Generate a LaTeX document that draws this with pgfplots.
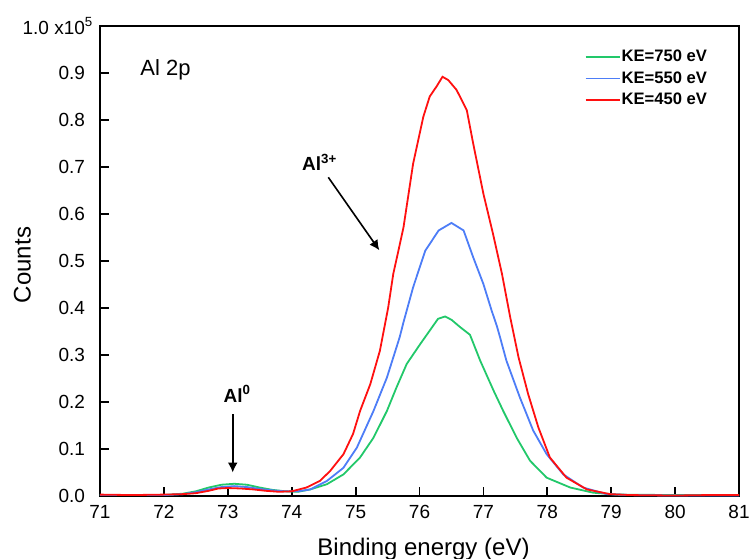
\documentclass[border=0pt]{standalone}
\usepackage{pgfplots}
\pgfplotsset{compat=1.18}
\usepackage{fontspec}
\setmainfont{Liberation Sans}
\usetikzlibrary{arrows.meta}
\definecolor{cgreen}{HTML}{22C86A}
\definecolor{cblue}{HTML}{4D7DF7}
\definecolor{cred}{HTML}{FF1010}
\begin{document}
\begin{tikzpicture}
\useasboundingbox (-50pt,-31pt) rectangle (324.5pt,248pt);
\begin{axis}[
  at={(0,0)}, anchor=south west,
  scale only axis, width=319.5pt, height=235pt,
  xmin=71, xmax=81, ymin=0, ymax=1.0,
  xtick={71,72,...,81},
  ytick={0,0.1,0.2,0.3,0.4,0.5,0.6,0.7,0.8,0.9,1.0},
  yticklabels={0.0,0.1,0.2,0.3,0.4,0.5,0.6,0.7,0.8,0.9,{1.0 x10\rlap{\textsuperscript{5}}}},
  /pgf/number format/assume math mode=true,
  tick pos=left, tick align=inside,
  major tick length=4.5pt,
  axis line style={line width=1pt},
  every tick/.style={black, line width=0.9pt},
  tick label style={font=\fontsize{9.5}{11}\selectfont},
  yticklabel style={xshift=-4pt},
  xticklabel style={yshift=-1pt},
  xlabel={Binding energy (eV)},
  ylabel={Counts},
  label style={font=\fontsize{12}{14}\selectfont},
  xlabel style={at={(axis description cs:0.5,0)}, anchor=base, yshift=-29.5pt, xshift=2pt},
  ylabel style={at={(axis description cs:-0.1213,0.4915)}, anchor=center},
  legend style={draw=none, fill=none, at={(axis description cs:0.952,0.953)}, anchor=north east,
    inner sep=0pt, row sep=2.3pt,
    font=\fontsize{8.3}{9}\selectfont\bfseries,
    nodes={inner sep=0.5pt, text height=6pt, text depth=1.5pt}},
  legend cell align=left,
  legend image code/.code={\draw[#1] (-3pt,0pt) -- (14pt,0pt);},
  every axis plot/.append style={line width=0.9pt},
]
\addplot[cgreen] coordinates {
(71.0,0.002) (71.5,0.002) (72.0,0.002) (72.3,0.005) (72.5,0.010) (72.7,0.018) (72.9,0.024)
(73.1,0.026) (73.3,0.024) (73.5,0.018) (73.7,0.013) (73.9,0.010) (74.1,0.009) (74.29,0.014)
(74.55,0.025) (74.81,0.046) (75.07,0.082) (75.28,0.124) (75.49,0.181) (75.64,0.231) (75.80,0.281)
(76.01,0.323) (76.15,0.350) (76.29,0.377) (76.40,0.382) (76.50,0.375) (76.63,0.360) (76.79,0.343)
(76.95,0.288) (77.16,0.224) (77.31,0.181) (77.52,0.124) (77.73,0.075) (77.99,0.039) (78.36,0.018)
(78.72,0.007) (79.1,0.003) (80.0,0.002) (81.0,0.002)
};
\addlegendentry{KE=750 eV}
\addplot[cblue] coordinates {
(71.0,0.002) (71.5,0.002) (72.0,0.002) (72.3,0.004) (72.5,0.008) (72.7,0.014) (72.9,0.019)
(73.1,0.021) (73.3,0.019) (73.5,0.015) (73.7,0.012) (73.9,0.010) (74.1,0.010) (74.29,0.014)
(74.55,0.032) (74.81,0.060) (75.02,0.103) (75.28,0.181) (75.49,0.252) (75.69,0.338) (75.75,0.370)
(75.90,0.444) (76.09,0.522) (76.30,0.565) (76.50,0.581) (76.69,0.565) (76.84,0.508) (77.0,0.451)
(77.13,0.394) (77.21,0.362) (77.26,0.338) (77.36,0.288) (77.57,0.210) (77.78,0.139) (77.99,0.089)
(78.25,0.046) (78.56,0.018) (78.93,0.004) (79.3,0.002) (80.0,0.001) (81.0,0.001)
};
\addlegendentry{KE=550 eV}
\addplot[cred] coordinates {
(71.0,0.003) (71.5,0.002) (72.0,0.003) (72.3,0.004) (72.5,0.006) (72.7,0.011) (72.85,0.016)
(73.0,0.017) (73.2,0.016) (73.4,0.014) (73.6,0.011) (73.8,0.009) (74.0,0.010) (74.23,0.018)
(74.44,0.032) (74.60,0.053) (74.81,0.089) (74.96,0.132) (75.07,0.181) (75.23,0.238) (75.38,0.309)
(75.51,0.401) (75.59,0.473) (75.67,0.522) (75.75,0.572) (75.90,0.707) (76.06,0.807) (76.16,0.850)
(76.27,0.872) (76.36,0.892) (76.45,0.885) (76.58,0.864) (76.74,0.821) (76.84,0.750) (77.0,0.643)
(77.15,0.558) (77.29,0.473) (77.42,0.380) (77.55,0.295) (77.70,0.217) (77.86,0.146) (78.04,0.082)
(78.30,0.039) (78.62,0.014) (78.98,0.004) (79.3,0.002) (80.0,0.001) (80.5,0.002) (81.0,0.002)
};
\addlegendentry{KE=450 eV}
\node[anchor=base west, inner sep=0pt, font=\fontsize{11}{12}\selectfont] at (axis cs:71.626,0.894) {Al 2p};
\node[anchor=base west, inner sep=0pt, font=\fontsize{9.5}{12}\selectfont\bfseries] at (axis cs:74.157,0.692) {Al\textsuperscript{3+}};
\node[anchor=base west, inner sep=0pt, font=\fontsize{9.5}{12}\selectfont\bfseries] at (axis cs:72.93,0.199) {Al\textsuperscript{0}};
\draw[line width=0.8pt, -{Latex[length=5pt,width=5pt]}] (axis cs:74.573,0.678) -- (axis cs:75.371,0.523);
\draw[line width=0.8pt, -{Latex[length=5pt,width=5pt]}] (axis cs:73.077,0.174) -- (axis cs:73.077,0.050);
\end{axis}
\end{tikzpicture}
\end{document}
